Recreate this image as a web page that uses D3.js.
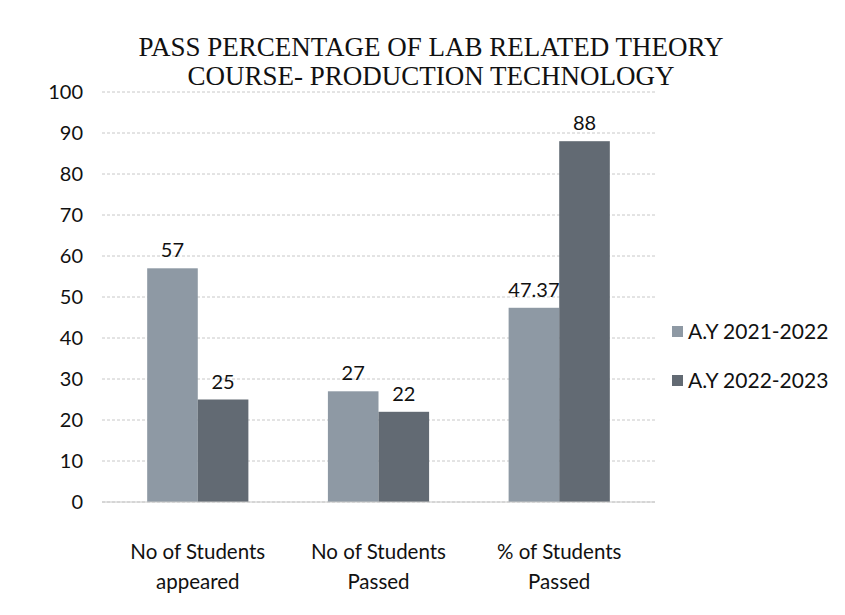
<!DOCTYPE html>
<html>
<head>
<meta charset="utf-8">
<script src="https://cdn.jsdelivr.net/npm/d3@7"></script>
<style>
  body { margin: 0; background: #fff; }
  text { fill: #111; }
</style>
</head>
<body>
<svg id="chart"></svg>
<script>
// chart data
var categories = ["No of Students appeared", "No of Students Passed", "% of Students Passed"];
var seriesNames = ["A.Y 2021-2022", "A.Y 2022-2023"];
var values2021 = [57, 27, 47.37];
var values2022 = [25, 22, 88];
var yTicks = [0, 10, 20, 30, 40, 50, 60, 70, 80, 90, 100];
var titleLines = ["PASS PERCENTAGE OF LAB RELATED THEORY", "COURSE- PRODUCTION TECHNOLOGY"];

var W = 845, H = 615;
var margin = { top: 92, right: 190, bottom: 113, left: 102 };
var width = W - margin.left - margin.right;
var height = H - margin.top - margin.bottom;
var colors = ["#8e99a4", "#626a73"];

var svg = d3.select("#chart").attr("width", W).attr("height", H);

// title
svg.append("text")
   .attr("x", 431).attr("y", 56)
   .attr("text-anchor", "middle")
   .style("font-family", "'Liberation Serif', serif")
   .style("font-size", "27px")
   .selectAll("tspan")
   .data(titleLines).enter()
   .append("tspan")
   .attr("x", 431)
   .attr("dy", function(d, i) { return i === 0 ? 0 : 29; })
   .text(function(d) { return d; });

var g = svg.append("g").attr("transform", "translate(" + margin.left + "," + margin.top + ")");

var x0 = d3.scaleBand().domain(categories).range([0, width]).paddingInner(0.44).paddingOuter(0.25);
var x1 = d3.scaleBand().domain(seriesNames).range([0, x0.bandwidth()]);
var y = d3.scaleLinear().domain([0, 100]).range([height, 0]);

// gridlines
g.append("g")
 .selectAll("line")
 .data(yTicks).enter()
 .append("line")
 .attr("x1", 0).attr("x2", width)
 .attr("y1", function(d) { return y(d); })
 .attr("y2", function(d) { return y(d); })
 .attr("stroke", "#c8c8c8")
 .attr("stroke-dasharray", "3,2");

// y axis labels
var yAxis = g.append("g")
   .call(d3.axisLeft(y).tickValues(yTicks).tickSize(0).tickPadding(19));
yAxis.select(".domain").remove();
yAxis.selectAll("text")
     .style("font-family", "Lato, sans-serif")
     .style("font-size", "20px");

// bars
var rows = categories.map(function(c, i) {
    return [{ s: seriesNames[0], v: values2021[i] }, { s: seriesNames[1], v: values2022[i] }];
});

var groups = g.selectAll(".grp")
    .data(rows).enter()
    .append("g")
    .attr("transform", function(d, i) { return "translate(" + x0(categories[i]) + ",0)"; });

groups.selectAll("rect")
    .data(function(d) { return d; }).enter()
    .append("rect")
    .attr("x", function(d) { return x1(d.s); })
    .attr("y", function(d) { return y(d.v); })
    .attr("width", x1.bandwidth())
    .attr("height", function(d) { return height - y(d.v); })
    .attr("fill", function(d, i) { return colors[i]; });

groups.selectAll(".lbl")
    .data(function(d) { return d; }).enter()
    .append("text")
    .attr("x", function(d) { return x1(d.s) + x1.bandwidth() / 2; })
    .attr("y", function(d) { return y(d.v) - 11; })
    .attr("text-anchor", "middle")
    .style("font-family", "Lato, sans-serif")
    .style("font-size", "20px")
    .text(function(d) { return d.v; });

// x axis baseline
g.append("line")
 .attr("x1", 0).attr("x2", width)
 .attr("y1", height).attr("y2", height)
 .attr("stroke", "#c8c8c8");

// category labels, two lines each
g.selectAll(".cat")
 .data(categories).enter()
 .append("text")
 .attr("text-anchor", "middle")
 .style("font-family", "Lato, sans-serif")
 .style("font-size", "20.5px")
 .each(function(d) {
     var words = d.split(" ");
     var l1 = words.slice(0, 3).join(" "), l2 = words.slice(3).join(" ");
     var cx = x0(d) + x0.bandwidth() / 2;
     var t = d3.select(this);
     t.append("tspan").attr("x", cx).attr("y", height + 57).text(l1);
     t.append("tspan").attr("x", cx).attr("y", height + 87).text(l2);
 });

// legend
var legend = svg.append("g").attr("transform", "translate(672,332)");
seriesNames.forEach(function(s, i) {
    legend.append("rect")
          .attr("x", 0).attr("y", i * 49 - 6)
          .attr("width", 11).attr("height", 11)
          .attr("fill", colors[i]);
    legend.append("text")
          .attr("x", 16).attr("y", i * 49)
          .attr("dy", "0.35em")
          .style("font-family", "Lato, sans-serif")
          .style("font-size", "21px")
          .text(s);
});
</script>
</body>
</html>
